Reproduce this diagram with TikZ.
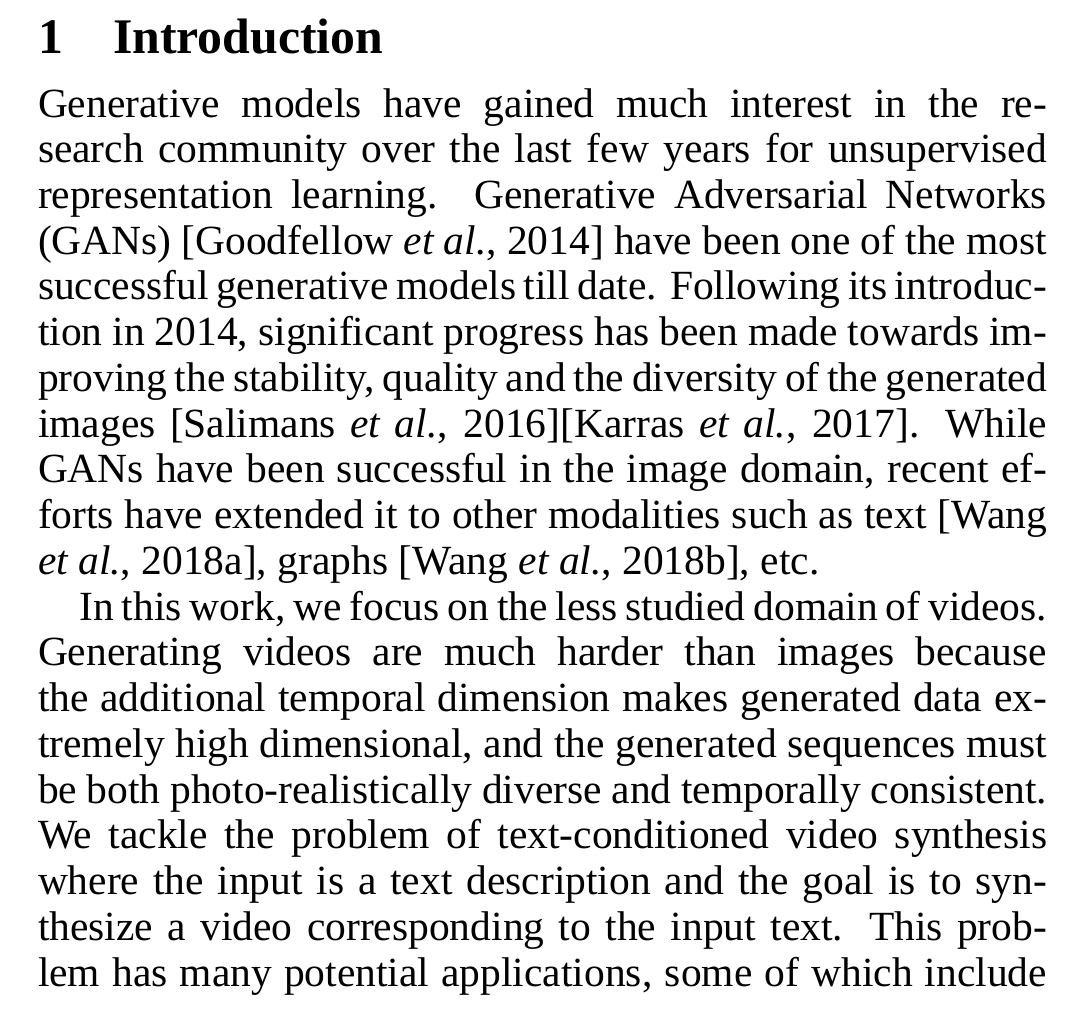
\documentclass[tikz,border=0pt]{standalone}
\usepackage{fontspec}
\setmainfont{Liberation Serif}
\newlength\pxu
\setlength\pxu{0.240964pt}
\tikzset{
  txtline/.style={anchor=base west, inner sep=0pt, outer sep=0pt, font=\fontsize{10pt}{11pt}\selectfont},
  headtxt/.style={anchor=base west, inner sep=0pt, outer sep=0pt, font=\fontsize{12pt}{14pt}\selectfont\bfseries}
}
\newcommand{\jl}[1]{\makebox[1009\pxu][s]{#1}}
\newcommand{\jli}[1]{\makebox[\dimexpr 1009\pxu-10pt\relax][s]{#1}}
\newcommand{\etal}{\textit{et al.}}
\begin{document}
\begin{tikzpicture}[x=\pxu, y=-\pxu]
\useasboundingbox (0,0) rectangle (1066,1019);
\node[headtxt] (hnum) at (38,53) {1};
\node[headtxt] (htitle) at (113,53) {Introduction};
\def\bs{45.74}
\node[txtline] (l1) at (38,117+0*\bs) {\jl{Generative models have gained much interest in the re-}};
\node[txtline] (l2) at (38,117+1*\bs) {\jl{search community over the last few years for unsupervised}};
\node[txtline] (l3) at (38,117+2*\bs) {\jl{representation learning. Generative Adversarial Networks}};
\node[txtline] (l4) at (38,117+3*\bs) {\jl{(GANs) [Goodfellow \etal, 2014] have been one of the most}};
\node[txtline] (l5) at (38,117+4*\bs) {\jl{successful generative models till date. Following its introduc-}};
\node[txtline] (l6) at (38,117+5*\bs) {\jl{tion in 2014, significant progress has been made towards im-}};
\node[txtline] (l7) at (38,117+6*\bs) {\jl{proving the stability, quality and the diversity of the generated}};
\node[txtline] (l8) at (38,117+7*\bs) {\jl{images [Salimans \etal, 2016][Karras \etal, 2017]. While}};
\node[txtline] (l9) at (38,117+8*\bs) {\jl{GANs have been successful in the image domain, recent ef-}};
\node[txtline] (l10) at (38,117+9*\bs) {\jl{forts have extended it to other modalities such as text [Wang}};
\node[txtline] (l11) at (38,117+10*\bs) {\etal, 2018a], graphs [Wang \etal, 2018b], etc.};
\node[txtline] (l12) at (79.5,117+11*\bs) {\jli{In this work, we focus on the less studied domain of videos.}};
\node[txtline] (l13) at (38,117+12*\bs) {\jl{Generating videos are much harder than images because}};
\node[txtline] (l14) at (38,117+13*\bs) {\jl{the additional temporal dimension makes generated data ex-}};
\node[txtline] (l15) at (38,117+14*\bs) {\jl{tremely high dimensional, and the generated sequences must}};
\node[txtline] (l16) at (38,117+15*\bs) {\jl{be both photo-realistically diverse and temporally consistent.}};
\node[txtline] (l17) at (38,117+16*\bs) {\jl{We tackle the problem of text-conditioned video synthesis}};
\node[txtline] (l18) at (38,117+17*\bs) {\jl{where the input is a text description and the goal is to syn-}};
\node[txtline] (l19) at (38,117+18*\bs) {\jl{thesize a video corresponding to the input text. This prob-}};
\node[txtline] (l20) at (38,117+19*\bs) {\jl{lem has many potential applications, some of which include}};
\end{tikzpicture}
\end{document}
